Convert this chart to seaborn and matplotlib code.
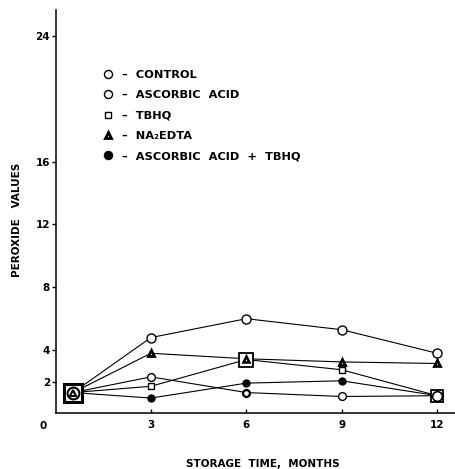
import matplotlib
matplotlib.use("Agg")
import matplotlib.pyplot as plt
from matplotlib.lines import Line2D
import seaborn as sns
import pandas as pd

# ---- data ----
months = [0.55, 3, 6, 9, 12]
control = [1.3, 4.8, 6.0, 5.3, 3.8]
ascorbic = [1.3, 2.3, 1.3, 1.05, 1.1]
tbhq = [1.3, 1.7, 3.4, 2.75, 1.1]
edta = [1.3, 3.8, 3.45, 3.25, 3.15]
ascorbic_tbhq = [1.3, 0.95, 1.9, 2.05, 1.1]

series_names = ["CONTROL", "ASCORBIC  ACID", "TBHQ", "NA₂EDTA", "ASCORBIC  ACID  +  TBHQ"]
x_ticks = [3, 6, 9, 12]
y_ticks = [2, 4, 8, 12, 16, 24]

sns.set_style("ticks")
plt.rcParams["font.family"] = ["DejaVu Sans"]
plt.rcParams["font.weight"] = "bold"
for k in ["text.color", "axes.labelcolor", "xtick.color", "ytick.color", "axes.edgecolor"]:
    plt.rcParams[k] = "black"

fig = plt.figure(figsize=(4.55, 4.69), dpi=100)
ax = fig.add_axes([0.122, 0.1194, 0.878, 0.8596])

K = "black"
styles = [
    dict(data=control, marker="o", ms=6.5, mfc="white", mew=1.0),
    dict(data=ascorbic, marker="o", ms=5.6, mfc="white", mew=1.0),
    dict(data=tbhq, marker="s", ms=4.2, mfc="white", mew=1.0),
    dict(data=edta, marker="^", ms=5.0, mfc="white", mew=2.0),
    dict(data=ascorbic_tbhq, marker="o", ms=5.0, mfc="black", mew=1.0),
]

draw_order = [4, 2, 1, 3, 0]
for i in draw_order:
    st = styles[i]
    df = pd.DataFrame({"m": months[1:], "v": st["data"][1:]})
    sns.lineplot(x=months, y=st["data"], ax=ax, color=K, lw=0.8,
                 marker=None, zorder=2)
    sns.lineplot(data=df, x="m", y="v", ax=ax, color=K, lw=0,
                 marker=st["marker"], markersize=st["ms"],
                 markerfacecolor=st["mfc"], markeredgecolor=K,
                 markeredgewidth=st["mew"], zorder=3)

# enlarged / composite markers seen in the original
ax.plot(months[2], tbhq[2], marker="s", ms=9.5, mfc="white", mec=K, mew=1.3, zorder=4)
ax.plot(months[2], edta[2], marker="^", ms=4.5, mfc="white", mec=K, mew=1.8, zorder=5)
ax.plot(months[2], ascorbic[2], marker="o", ms=4.3, mfc="white", mec=K, mew=1.0, zorder=5)
ax.plot(months[4], tbhq[4], marker="s", ms=8.5, mfc="white", mec=K, mew=1.3, zorder=4)
ax.plot(months[4], ascorbic[4], marker="o", ms=7.0, mfc="white", mec=K, mew=1.2, zorder=5)
ax.plot(months[0], tbhq[0], marker="s", ms=12.5, mfc="white", mec=K, mew=2.2, zorder=6)
ax.plot(months[0], control[0], marker="o", ms=8.5, mfc="white", mec=K, mew=1.5, zorder=7)
ax.plot(months[0], edta[0], marker="^", ms=5.0, mfc="white", mec=K, mew=1.5, zorder=8)

ax.set_xlim(0, 12.56)
ax.set_ylim(0, 25.65)
ax.set_xticks(x_ticks)
ax.set_xticklabels([str(t) for t in x_ticks], fontsize=7.5, fontweight="bold")
ax.set_yticks(y_ticks)
ax.set_yticklabels([str(t) for t in y_ticks], fontsize=7.5, fontweight="bold")
ax.tick_params(axis="y", direction="out", length=3, width=1, pad=1)
ax.tick_params(axis="x", direction="in", length=3, width=1, pad=5)
for s in ["top", "right"]:
    ax.spines[s].set_visible(False)
for s in ["left", "bottom"]:
    ax.spines[s].set_linewidth(1.1)
ax.text(-0.022, -0.02, "0", transform=ax.transAxes, ha="right", va="top",
        fontsize=7.5, fontweight="bold")

ax.set_xlabel("STORAGE  TIME,  MONTHS", fontsize=7.5, fontweight="bold")
ax.set_ylabel("PEROXIDE   VALUES", fontsize=7.5, fontweight="bold")
ax.yaxis.set_label_coords(-0.085, 0.48)
ax.xaxis.set_label_coords(0.52, -0.115)

handles = []
for st in styles:
    if st["marker"] == "^":
        h = Line2D([], [], lw=0, marker="^", markersize=4.5, markerfacecolor="white",
                   markeredgecolor=K, markeredgewidth=2.0)
    elif st["marker"] == "s":
        h = Line2D([], [], lw=0, marker="s", markersize=5.0, markerfacecolor="white",
                   markeredgecolor=K, markeredgewidth=1.0)
    else:
        h = Line2D([], [], lw=0, marker="o", markersize=5.8, markerfacecolor=st["mfc"],
                   markeredgecolor=K, markeredgewidth=1.0)
    handles.append(h)
labels = ["–  " + n for n in series_names]
leg = ax.legend(handles, labels, loc="upper left", bbox_to_anchor=(0.108, 0.862),
                frameon=False, fontsize=8.2, handlelength=0.9, handletextpad=0.75,
                labelspacing=0.9, borderaxespad=0)
for t in leg.get_texts():
    t.set_fontweight("bold")
    t.set_color("black")

fig.savefig("out.png", dpi=100)
